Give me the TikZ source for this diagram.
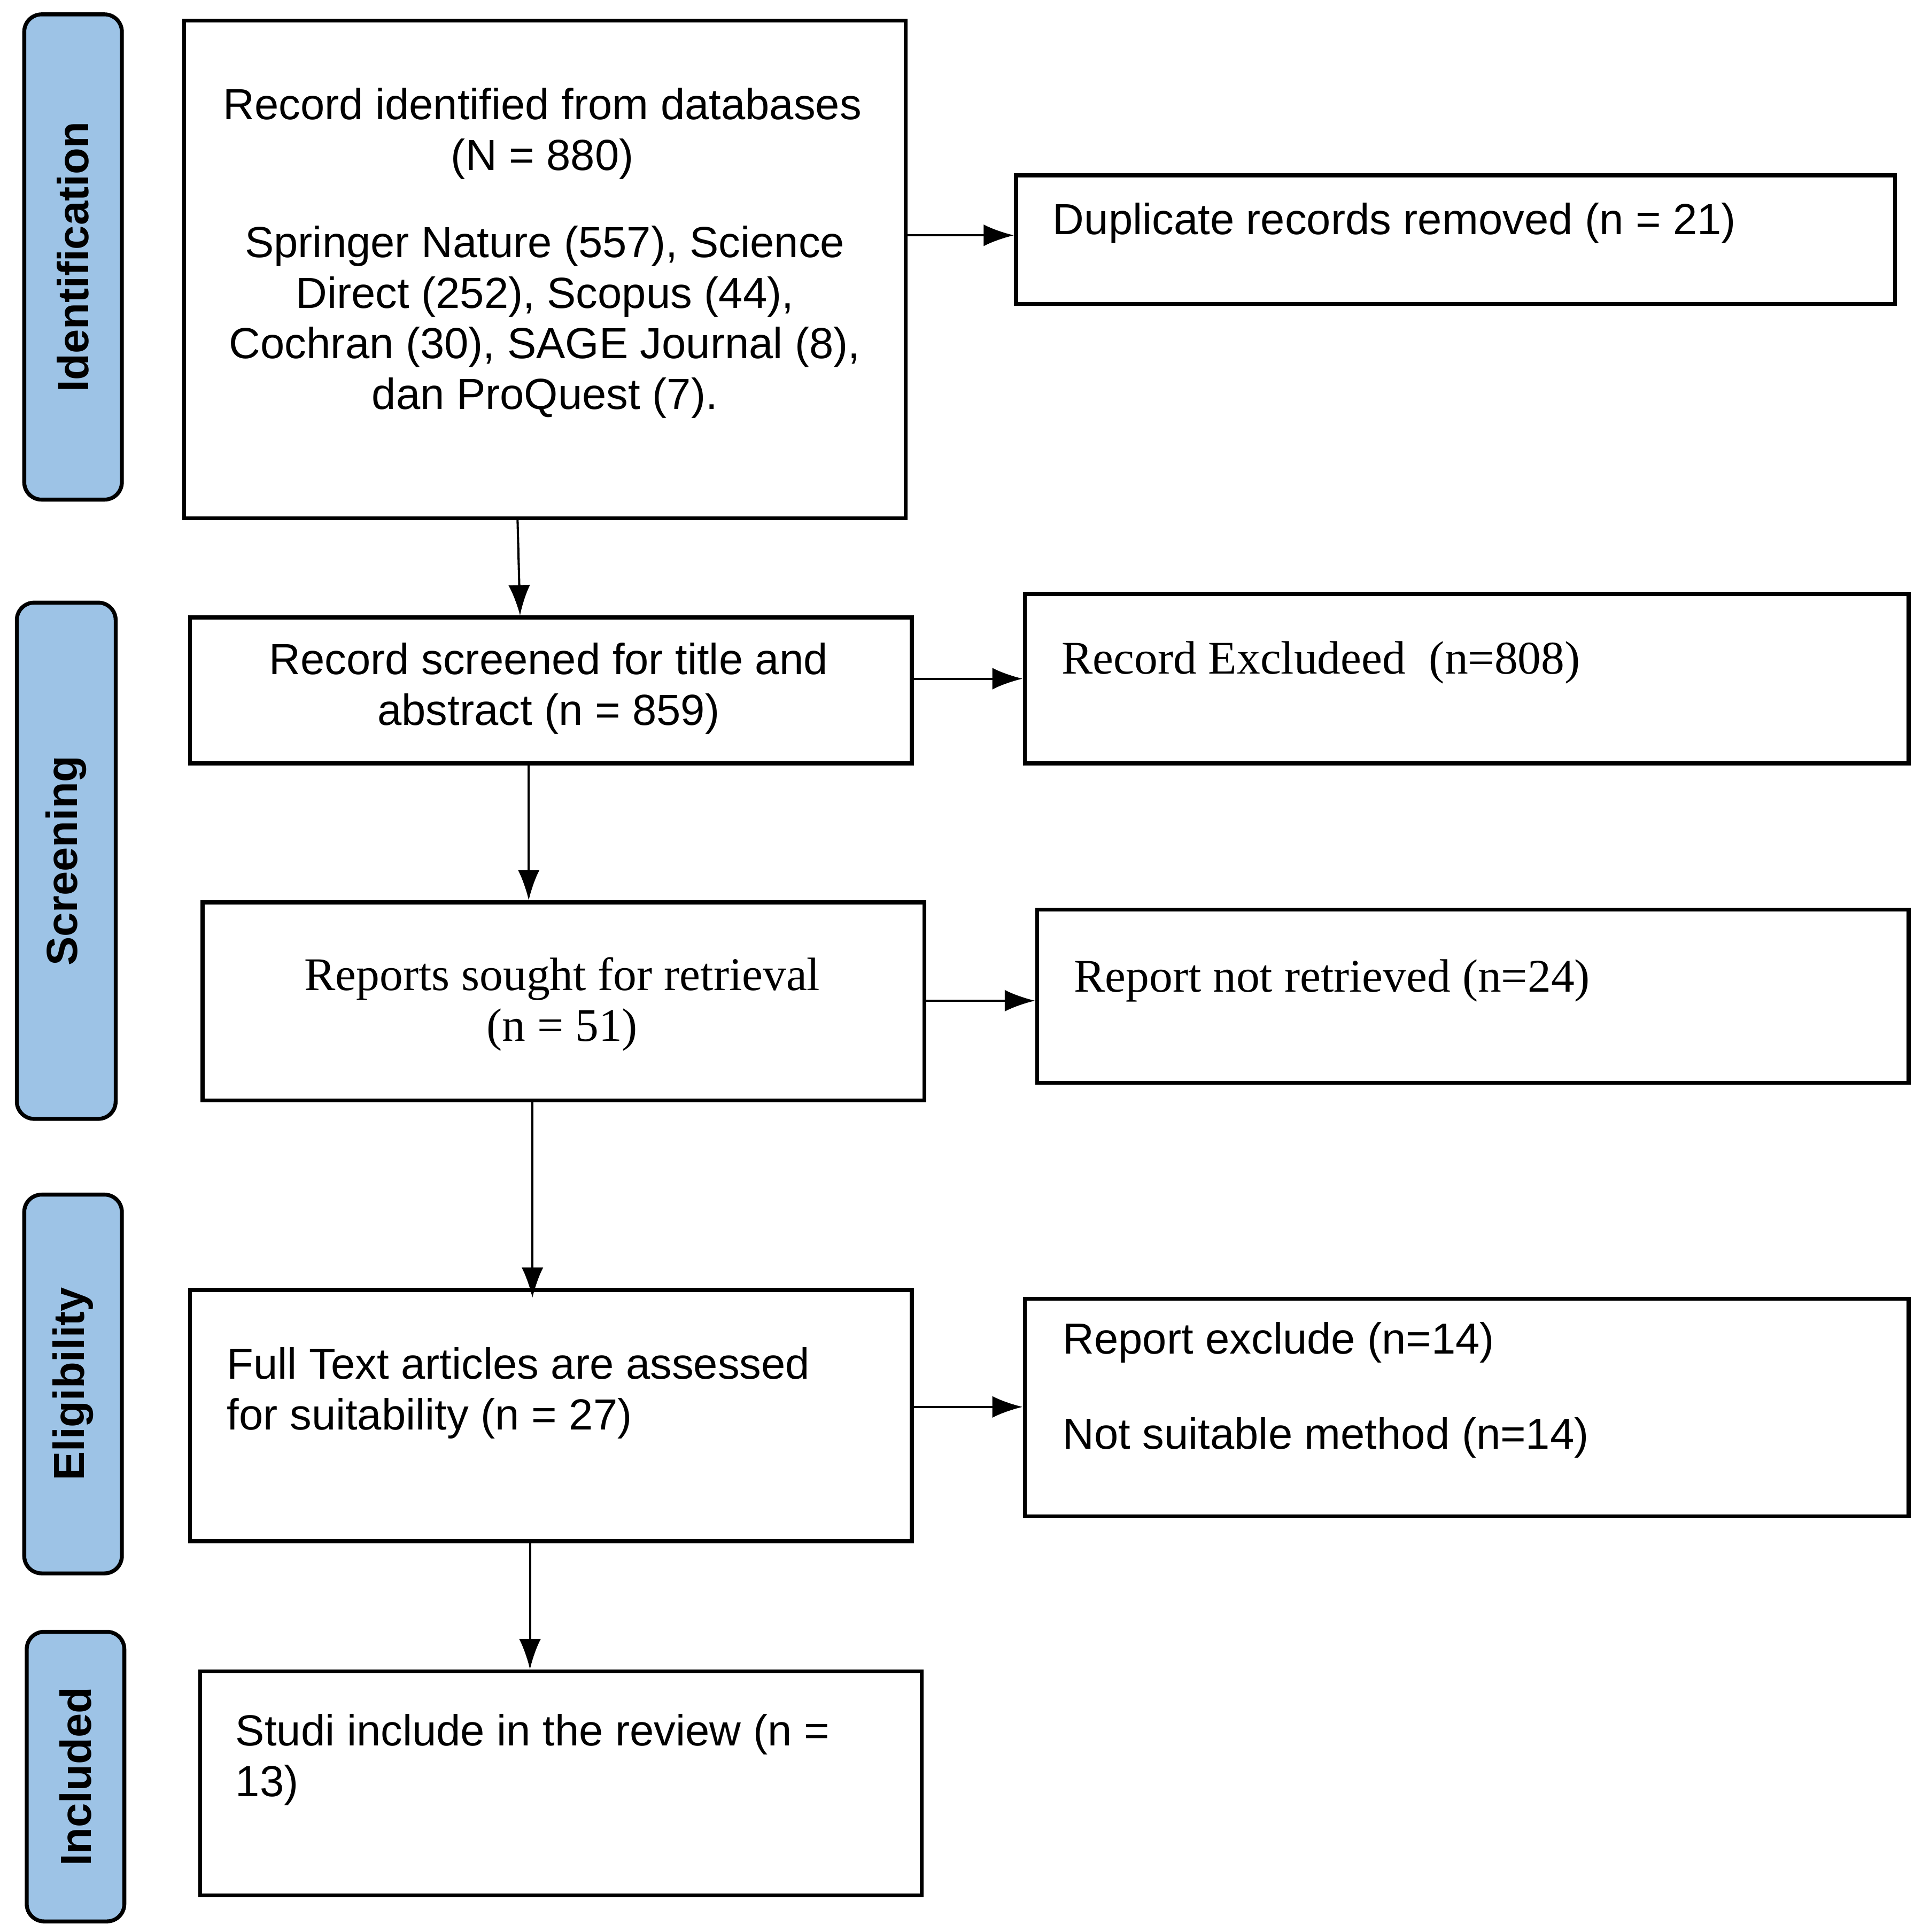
\documentclass[tikz,border=0pt]{standalone}
\usepackage{fontspec}
\setmainfont{Liberation Sans}
\newfontfamily\serifface{Liberation Serif}
\usetikzlibrary{fit,arrows.meta}
\definecolor{phase}{RGB}{157,195,230}
\begin{document}
\begin{tikzpicture}[x=0.02cm,y=-0.02cm]
  \tikzset{Box/.style={%
          draw=black,%
          line width=1.8pt,%
          inner sep=-0.9pt,%
      },
      Phase/.style={%
          draw=black,%
          fill=phase,%
          line width=1.8pt,%
          rounded corners=8pt,%
          inner sep=-0.9pt,%
      },
      PhaseText/.style={%
          rotate=90,%
          font=\fontsize{20}{24}\selectfont\bfseries,%
      },
      Txt/.style={%
          font=\fontsize{20}{23.3}\selectfont,%
          align=center,%
          inner sep=0pt,%
      },
      Serif/.style={%
          font=\fontsize{21.5}{23.3}\selectfont\serifface,%
      },
      Arr/.style={-{Latex[length=14pt,width=10pt]},line width=1pt},
  }
  \useasboundingbox (0,0) rectangle (1552,1560);

  % phases
  \node[Phase, fit={(18,10)(100,405)}] (ident) {};
  \node[Phase, fit={(12,485)(95,905)}] (screen) {};
  \node[Phase, fit={(18,963)(100,1272)}] (elig) {};
  \node[Phase, fit={(20,1316)(102,1553)}] (incl) {};
  \node[PhaseText] (identL) at (ident.center) {Identification};
  \node[PhaseText] (screenL) at (screen.center) {Screening};
  \node[PhaseText] (eligL) at (elig.center) {Eligibility};
  \node[PhaseText] (inclL) at (incl.center) {Included};

  % main boxes
  \node[Box, fit={(147,15)(733,420)}] (rec) {};
  \node[Box, fit={(152,497)(738,618)}] (scr) {};
  \node[Box, fit={(162,727)(748,890)}] (sought) {};
  \node[Box, fit={(152,1040)(738,1246)}] (full) {};
  \node[Box, fit={(160,1348)(746,1532)}] (studi) {};

  % side boxes
  \node[Box, fit={(819,140)(1532,247)}] (dup) {};
  \node[Box, fit={(826,478)(1543,618)}] (excl) {};
  \node[Box, fit={(836,733)(1543,876)}] (notret) {};
  \node[Box, fit={(826,1047)(1543,1226)}] (repex) {};

  % texts
  \node[Txt] (recT1) at (438,108) {Record identified from databases\\(N = 880)};
  \node[Txt] (recT2) at (440,260) {Springer Nature (557), Science\\Direct (252), Scopus (44),\\Cochran (30), SAGE Journal (8),\\dan ProQuest (7).};
  \node[Txt] (scrT) at (443,556) {Record screened for title and\\abstract (n = 859)};
  \node[Txt, Serif] (soughtT) at (454,811) {Reports sought for retrieval\\(n = 51)};
  \node[Txt, align=left, anchor=west] (fullT) at (183,1125) {Full Text articles are assessed\\for suitability (n = 27)};
  \node[Txt, align=left, anchor=west] (studiT) at (190,1421) {Studi include in the review (n =\\13)};
  \node[Txt, anchor=west] (dupT) at (850,180) {Duplicate records removed (n = 21)};
  \node[Txt, Serif, anchor=west] (exclT) at (857,535) {Record Excludeed~~(n=808)};
  \node[Txt, Serif, anchor=west] (notretT) at (867,792) {Report not retrieved (n=24)};
  \node[Txt, anchor=west] (repexT1) at (858,1084) {Report exclude (n=14)};
  \node[Txt, anchor=west] (repexT2) at (858,1161) {Not suitable method (n=14)};

  % arrows down
  \draw[Arr] (rec.south -| 418,0) -- (scr.north -| 420,0);
  \draw[Arr] (scr.south -| 427,0) -- (sought.north -| 427,0);
  \draw[Arr] (sought.south -| 430,0) -- ([yshift=-0.16cm]full.north -| 430,0);
  \draw[Arr] (full.south -| 428,0) -- (studi.north -| 428,0);

  % arrows right
  \draw[Arr] (rec.east |- 0,190) -- (dup.west |- 0,190);
  \draw[Arr] (scr.east |- 0,548) -- (excl.west |- 0,548);
  \draw[Arr] (sought.east |- 0,808) -- (notret.west |- 0,808);
  \draw[Arr] (full.east |- 0,1136) -- (repex.west |- 0,1136);
\end{tikzpicture}
\end{document}
